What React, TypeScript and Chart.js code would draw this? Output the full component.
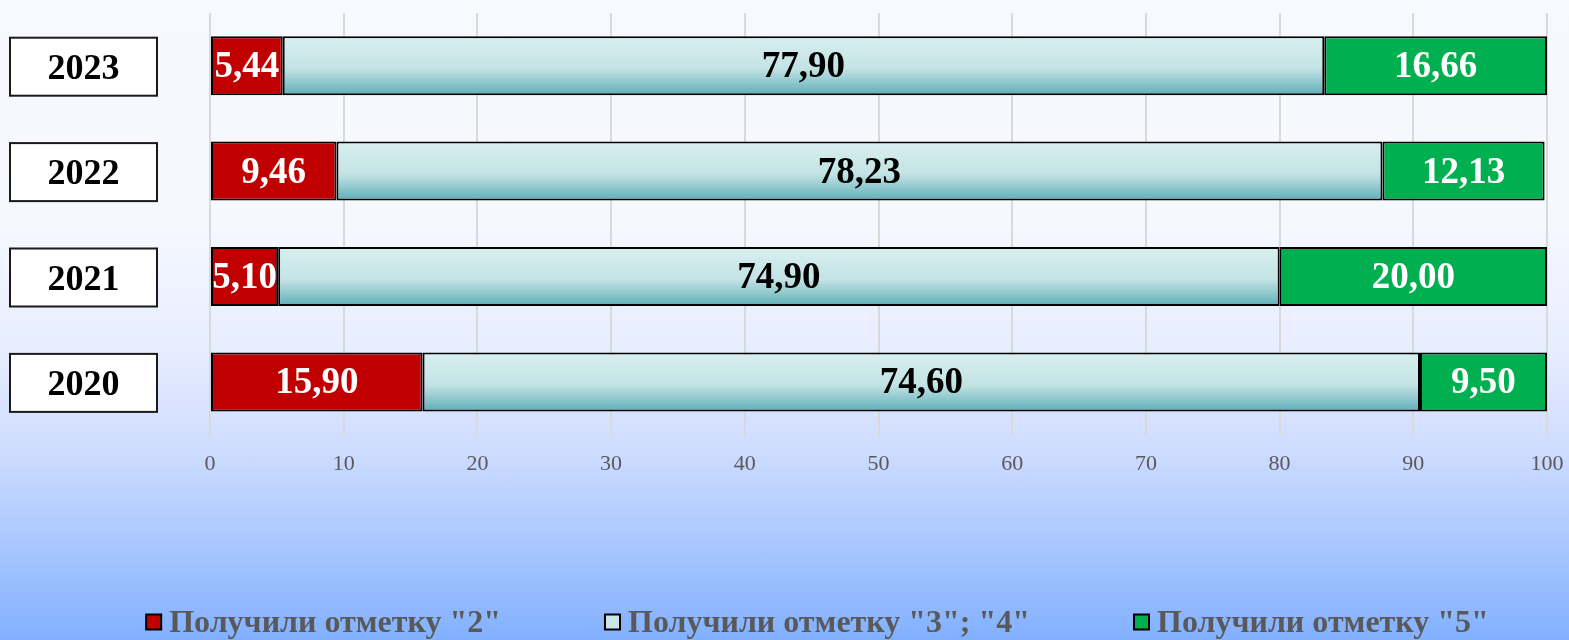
import React, { useEffect, useRef } from "react";
import { Chart, registerables } from "chart.js";

Chart.register(...registerables);

const years = ["2023", "2022", "2021", "2020"];
const grade2 = [5.44, 9.46, 5.1, 15.9];
const grade34 = [77.9, 78.23, 74.9, 74.6];
const grade5 = [16.66, 12.13, 20.0, 9.5];
const seriesNames = ['Получили отметку "2"', 'Получили отметку "3"; "4"', 'Получили отметку "5"'];
const xTicks = [0, 10, 20, 30, 40, 50, 60, 70, 80, 90, 100];

const BAR_PCT = 0.56;
const fmt = (v: number) => v.toFixed(2).replace(".", ",");

export default function App() {
  const ref = useRef<HTMLCanvasElement | null>(null);

  useEffect(() => {
    document.body.style.margin = "0";
    const canvas = ref.current!;

    const midFill = (ctx: any) => {
      const chart = ctx.chart;
      const y = chart.scales?.y;
      if (!chart.chartArea || !y || ctx.dataIndex === undefined) return "#c4e4e4";
      const c = y.getPixelForValue(ctx.dataIndex);
      const half = ((y.height / years.length) * BAR_PCT) / 2;
      const g = chart.ctx.createLinearGradient(0, c - half, 0, c + half);
      g.addColorStop(0, "#d9efef");
      g.addColorStop(0.55, "#c3e3e4");
      g.addColorStop(1, "#5eaeb7");
      return g;
    };

    const labelPlugin = {
      id: "customDraw",
      afterDatasetsDraw(chart: any) {
        const { ctx } = chart;
        const y = chart.scales.y;
        const x = chart.scales.x;
        ctx.save();
        // data labels
        ctx.font = "bold 37px 'Liberation Serif', 'Times New Roman', serif";
        ctx.textAlign = "center";
        ctx.textBaseline = "middle";
        chart.data.datasets.forEach((ds: any, di: number) => {
          const meta = chart.getDatasetMeta(di);
          meta.data.forEach((bar: any, i: number) => {
            const v = ds.data[i];
            let cx = (bar.x + bar.base) / 2;
            ctx.fillStyle = di === 1 ? "#000000" : "#ffffff";
            const w = ctx.measureText(fmt(v)).width;
            if (di === 0 && w > Math.abs(bar.x - bar.base)) {
              cx = Math.max(cx, x.left + w / 2);
            }
            ctx.fillText(fmt(v), cx, bar.y + 2);
          });
        });
        // category boxes
        years.forEach((yr, i) => {
          const c = y.getPixelForValue(i) + 1;
          const bx = 10, bw = 147, bh = 58;
          ctx.fillStyle = "#ffffff";
          ctx.fillRect(bx, c - bh / 2, bw, bh);
          ctx.lineWidth = 2;
          ctx.strokeStyle = "#1a1a1a";
          ctx.strokeRect(bx, c - bh / 2, bw, bh);
          ctx.fillStyle = "#000000";
          ctx.font = "bold 36px 'Liberation Serif', 'Times New Roman', serif";
          ctx.fillText(yr, bx + bw / 2, c + 3);
        });
        // legend
        ctx.font = "bold 32px 'Liberation Serif', 'Times New Roman', serif";
        ctx.textAlign = "left";
        const colors = ["#c00000", "#c9e7e8", "#00b050"];
        const box = 15, gapText = 8, gapItem = 104;
        const widths = seriesNames.map((n) => box + gapText + ctx.measureText(n).width);
        const total = widths.reduce((a, b) => a + b, 0) + gapItem * (widths.length - 1);
        let lx = (chart.width - total) / 2 + 33;
        const ly = 622;
        seriesNames.forEach((n, i) => {
          ctx.fillStyle = colors[i];
          ctx.fillRect(lx, ly - box / 2, box, box);
          ctx.lineWidth = 2;
          ctx.strokeStyle = "#000000";
          ctx.strokeRect(lx, ly - box / 2, box, box);
          ctx.fillStyle = "#595959";
          ctx.fillText(n, lx + box + gapText, ly + 2);
          lx += widths[i] + gapItem;
        });
        ctx.restore();
      },
    };

    const common = {
      borderColor: "#000000",
      borderWidth: 2,
      borderSkipped: false,
      barPercentage: BAR_PCT,
      categoryPercentage: 1,
    };

    const chart = new Chart(canvas, {
      type: "bar",
      data: {
        labels: years,
        datasets: [
          { label: seriesNames[0], data: grade2, backgroundColor: "#c00000", ...common },
          { label: seriesNames[1], data: grade34, backgroundColor: midFill, ...common },
          { label: seriesNames[2], data: grade5, backgroundColor: "#00b050", ...common },
        ],
      },
      options: {
        indexAxis: "y",
        animation: false,
        responsive: false,
        maintainAspectRatio: false,
        layout: { padding: { left: 210, right: 22, top: 13, bottom: 147 } },
        plugins: { legend: { display: false }, tooltip: { enabled: false } },
        scales: {
          x: {
            stacked: true,
            min: 0,
            max: 100,
            afterBuildTicks: (axis: any) => {
              axis.ticks = xTicks.map((v) => ({ value: v }));
            },
            afterFit: (axis: any) => {
              axis.paddingLeft = 0;
              axis.paddingRight = 0;
            },
            grid: { color: "#d9d9d9", lineWidth: 2, drawTicks: false },
            border: { display: false },
            ticks: {
              color: "#595959",
              padding: 16,
              maxRotation: 0,
              font: { family: "'Liberation Serif', 'Times New Roman', serif", size: 22 },
            },
          },
          y: {
            stacked: true,
            display: false,
          },
        },
      },
      plugins: [labelPlugin],
    });
    return () => chart.destroy();
  }, []);

  return (
    <div
      style={{
        width: 1569,
        height: 640,
        background:
          "linear-gradient(to bottom, #f8f9fe 0%, #f6f8ff 35%, #e6edff 55%, #cfdcff 70%, #a9c7ff 85%, #82b0ff 100%)",
      }}
    >
      <canvas ref={ref} width={1569} height={640} style={{ display: "block" }} />
    </div>
  );
}
